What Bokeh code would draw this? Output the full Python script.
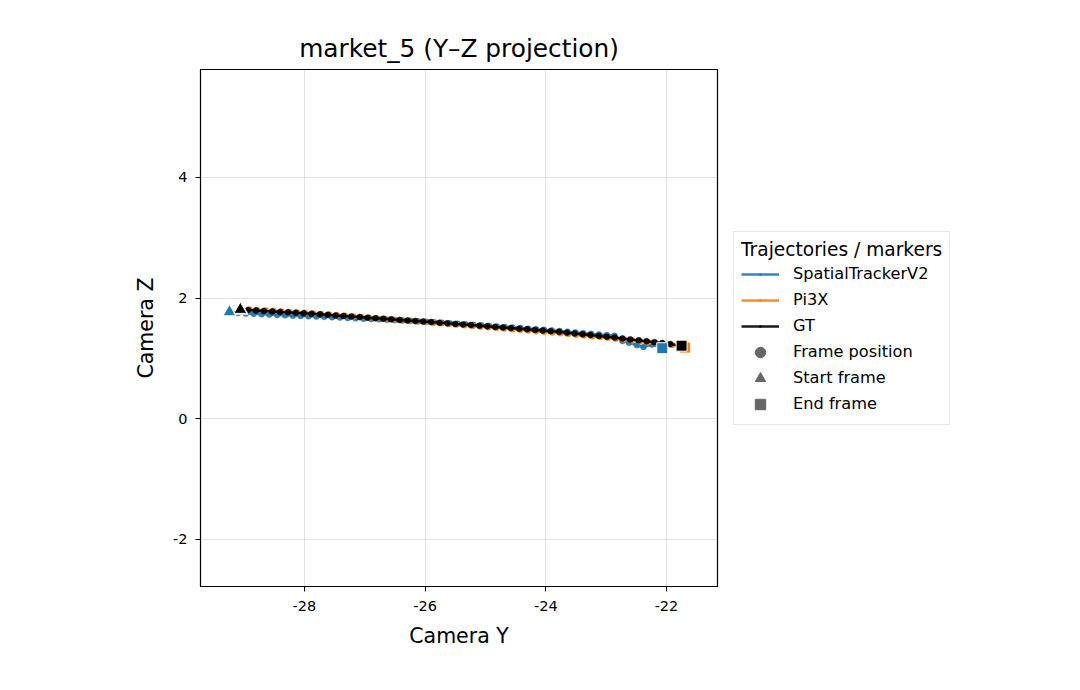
from bokeh.plotting import figure
from bokeh.models import ColumnDataSource, Legend, LegendItem, FixedTicker, Range1d
from bokeh.embed import file_html
from bokeh.resources import INLINE

# ---------------- data ----------------
x_ticks = [-28, -26, -24, -22]
y_ticks = [-2, 0, 2, 4]

gt_y_cam = [-29.06, -28.93, -28.80, -28.67, -28.53, -28.40, -28.27, -28.14, -28.01, -27.88,
            -27.74, -27.61, -27.48, -27.35, -27.22, -27.08, -26.95, -26.82, -26.69, -26.56,
            -26.42, -26.29, -26.16, -26.03, -25.90, -25.76, -25.63, -25.50, -25.37, -25.24,
            -25.10, -24.97, -24.84, -24.71, -24.58, -24.44, -24.31, -24.18, -24.05, -23.92,
            -23.78, -23.65, -23.52, -23.39, -23.26, -23.12, -22.99, -22.86, -22.73, -22.60,
            -22.46, -22.33, -22.20, -22.07, -21.94, -21.75]
gt_z_cam = [1.810, 1.803, 1.795, 1.788, 1.780, 1.772, 1.765, 1.757, 1.750, 1.742,
            1.732, 1.723, 1.714, 1.705, 1.695, 1.686, 1.676, 1.667, 1.658, 1.649,
            1.639, 1.630, 1.621, 1.612, 1.603, 1.592, 1.582, 1.573, 1.563, 1.553,
            1.543, 1.533, 1.523, 1.513, 1.503, 1.493, 1.483, 1.473, 1.463, 1.453,
            1.441, 1.428, 1.415, 1.401, 1.388, 1.374, 1.360, 1.346, 1.332, 1.316,
            1.300, 1.285, 1.270, 1.255, 1.238, 1.212]

pi3x_y_cam = [-29.04, -28.91, -28.78, -28.64, -28.51, -28.38, -28.25, -28.12, -27.99, -27.85,
              -27.72, -27.59, -27.46, -27.33, -27.19, -27.06, -26.93, -26.80, -26.67, -26.53,
              -26.40, -26.27, -26.14, -26.01, -25.87, -25.74, -25.61, -25.48, -25.35, -25.21,
              -25.08, -24.95, -24.82, -24.69, -24.55, -24.42, -24.29, -24.16, -24.03, -23.89,
              -23.76, -23.63, -23.50, -23.37, -23.23, -23.10, -22.97, -22.84, -22.71, -22.57,
              -22.44, -22.31, -22.18, -22.05, -21.91, -21.69]
pi3x_z_cam = [1.795, 1.810, 1.805, 1.797, 1.789, 1.780, 1.772, 1.764, 1.755, 1.746,
              1.737, 1.727, 1.717, 1.707, 1.697, 1.686, 1.676, 1.665, 1.655, 1.644,
              1.634, 1.624, 1.613, 1.603, 1.592, 1.582, 1.571, 1.561, 1.550, 1.539,
              1.528, 1.518, 1.507, 1.496, 1.485, 1.474, 1.463, 1.452, 1.441, 1.430,
              1.418, 1.406, 1.394, 1.381, 1.368, 1.355, 1.342, 1.328, 1.314, 1.300,
              1.285, 1.270, 1.255, 1.238, 1.222, 1.180]

stv2_y_cam = [-29.24, -29.10, -28.97, -28.84, -28.71, -28.58, -28.45, -28.32, -28.19, -28.06,
              -27.93, -27.80, -27.67, -27.54, -27.41, -27.28, -27.15, -27.02, -26.89, -26.76,
              -26.63, -26.50, -26.37, -26.24, -26.11, -25.98, -25.85, -25.72, -25.59, -25.46,
              -25.33, -25.20, -25.07, -24.94, -24.81, -24.68, -24.55, -24.42, -24.29, -24.16,
              -24.03, -23.90, -23.77, -23.64, -23.51, -23.38, -23.25, -23.12, -22.99, -22.86,
              -22.73, -22.62, -22.49, -22.38, -22.24, -22.07]
stv2_z_cam = [1.770, 1.755, 1.745, 1.740, 1.733, 1.727, 1.721, 1.715, 1.710, 1.705,
              1.700, 1.695, 1.690, 1.684, 1.678, 1.672, 1.666, 1.660, 1.654, 1.648,
              1.642, 1.636, 1.630, 1.624, 1.616, 1.608, 1.600, 1.592, 1.583, 1.575,
              1.566, 1.557, 1.549, 1.540, 1.531, 1.522, 1.512, 1.503, 1.493, 1.484,
              1.475, 1.465, 1.454, 1.443, 1.432, 1.420, 1.409, 1.397, 1.388, 1.377,
              1.290, 1.260, 1.220, 1.190, 1.230, 1.170]

series = [
    ("SpatialTrackerV2", stv2_y_cam, stv2_z_cam, "#1f77b4"),
    ("Pi3X", pi3x_y_cam, pi3x_z_cam, "#ff7f0e"),
    ("GT", gt_y_cam, gt_z_cam, "#000000"),
]

FONT = "DejaVu Sans"
NAN = float("nan")

p = figure(frame_width=517, frame_height=517, output_backend="svg", toolbar_location=None,
           x_range=Range1d(-29.72, -21.155), y_range=Range1d(-2.78, 5.79),
           min_border_left=200, min_border_right=10, min_border_top=69, min_border_bottom=104,
           title="market_5 (Y–Z projection)")

p.title.align = "center"
p.title.text_font = FONT
p.title.text_font_size = "24.8px"
p.title.text_font_style = "normal"
p.title.text_color = "#000000"
p.title.standoff = 13

p.outline_line_color = "#000000"
p.outline_line_width = 1.2
p.outline_line_alpha = 1.0
p.background_fill_color = "white"
p.border_fill_color = "white"

for ax in (p.xaxis[0], p.yaxis[0]):
    ax.axis_line_color = "#000000"
    ax.major_tick_line_color = "#000000"
    ax.major_tick_out = 5
    ax.major_tick_in = 0
    ax.minor_tick_line_color = None
    ax.major_label_text_font = FONT
    ax.major_label_text_font_size = "14.5px"
    ax.major_label_text_color = "#000000"
    ax.axis_label_text_font = FONT
    ax.axis_label_text_font_size = "20.5px"
    ax.axis_label_text_font_style = "normal"
    ax.axis_label_text_color = "#000000"
    ax.axis_label_standoff = 10

p.xaxis.major_label_standoff = 9
p.yaxis.major_label_standoff = 8
p.yaxis.axis_label_standoff = 12
p.xaxis.axis_label = "Camera Y"
p.yaxis.axis_label = "Camera Z"
p.xaxis.ticker = FixedTicker(ticks=x_ticks)
p.yaxis.ticker = FixedTicker(ticks=y_ticks)
p.xaxis.major_label_overrides = {t: str(t) for t in x_ticks}
p.yaxis.major_label_overrides = {t: str(t) for t in y_ticks}
p.yaxis.major_label_orientation = "horizontal"

p.xgrid.ticker = FixedTicker(ticks=x_ticks)
p.ygrid.ticker = FixedTicker(ticks=y_ticks)
p.grid.grid_line_color = "#b0b0b0"
p.grid.grid_line_alpha = 0.35
p.grid.grid_line_width = 1

nan_src = ColumnDataSource(dict(x=[NAN], y=[NAN]))

items = []
for name, xs, zs, col in series:
    src = ColumnDataSource(dict(x=xs, y=zs))
    ln = p.line("x", "y", source=src, line_color=col, line_width=2.5, line_alpha=0.9)
    p.scatter("x", "y", source=src, marker="circle", size=6,
              fill_color=col, line_color=col, line_width=0.5, alpha=0.9)
    # legend proxy: small dot on the line
    proxy = p.scatter("x", "y", source=nan_src, marker="dot", size=10,
                      line_color=col, fill_color=col)
    items.append(LegendItem(label=name, renderers=[ln, proxy]))

# start / end markers
for name, xs, zs, col in series:
    s = ColumnDataSource(dict(x=[xs[0]], y=[zs[0]]))
    e = ColumnDataSource(dict(x=[xs[-1]], y=[zs[-1]]))
    p.scatter("x", "y", source=s, marker="triangle", size=13,
              fill_color=col, line_color="white", line_width=1)
    p.scatter("x", "y", source=e, marker="square", size=11,
              fill_color=col, line_color="white", line_width=1)

# proxy legend entries for marker meanings
r_frame = p.scatter("x", "y", source=nan_src, marker="circle", size=9,
                    fill_color="#666666", line_color="#666666")
r_start = p.scatter("x", "y", source=nan_src, marker="triangle", size=12,
                    fill_color="#666666", line_color="#666666")
r_end = p.scatter("x", "y", source=nan_src, marker="square", size=10,
                  fill_color="#666666", line_color="#666666")
items += [LegendItem(label="Frame position", renderers=[r_frame]),
          LegendItem(label="Start frame", renderers=[r_start]),
          LegendItem(label="End frame", renderers=[r_end])]

legend = Legend(items=items, title="Trajectories / markers", location="center_left")
legend.title_text_font = FONT
legend.title_text_font_size = "18.6px"
legend.title_text_font_style = "normal"
legend.title_text_color = "#000000"
legend.title_standoff = 1
legend.label_text_font = FONT
legend.label_text_font_size = "16.2px"
legend.label_text_color = "#000000"
legend.label_height = 26
legend.glyph_height = 26
legend.glyph_width = 38
legend.label_standoff = 14
legend.spacing = 0
legend.padding = 7
legend.margin = 16
legend.border_line_color = "#cccccc"
legend.border_line_width = 1
legend.background_fill_color = "white"
legend.background_fill_alpha = 0.8
p.add_layout(legend, "right")

open("out.html", "w").write(file_html(p, INLINE))
